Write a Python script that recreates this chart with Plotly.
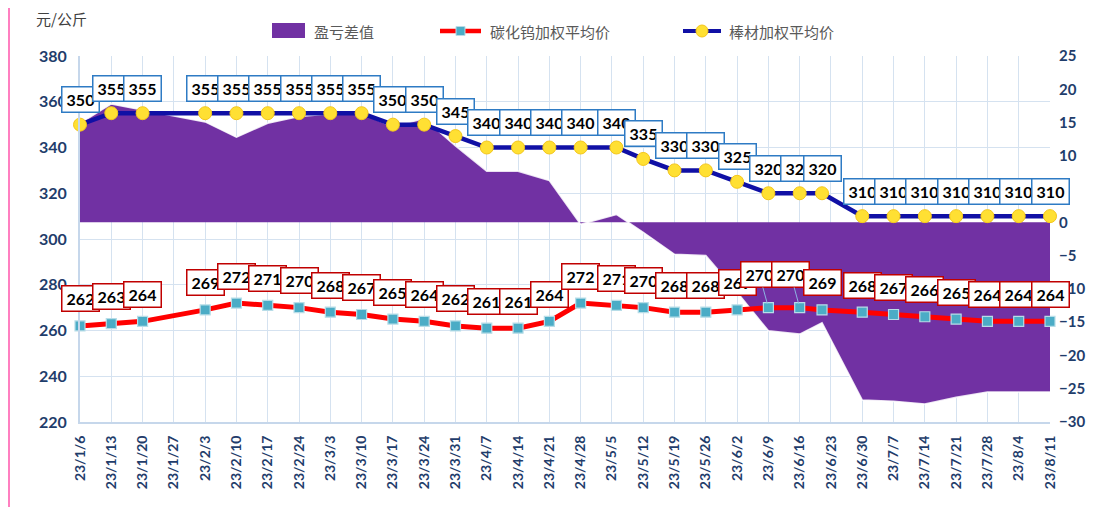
import plotly.graph_objects as go

# ---------------- data ----------------
dates = ["2023-01-06", "2023-01-13", "2023-01-20", "2023-02-03", "2023-02-10", "2023-02-17",
         "2023-02-24", "2023-03-03", "2023-03-10", "2023-03-17", "2023-03-24", "2023-03-31",
         "2023-04-07", "2023-04-14", "2023-04-21", "2023-04-28", "2023-05-06", "2023-05-12",
         "2023-05-19", "2023-05-26", "2023-06-02", "2023-06-09", "2023-06-16", "2023-06-21",
         "2023-06-30", "2023-07-07", "2023-07-14", "2023-07-21", "2023-07-28", "2023-08-04",
         "2023-08-11"]

rod_price = [350, 355, 355, 355, 355, 355, 355, 355, 355, 350, 350, 345, 340, 340, 340, 340,
             340, 335, 330, 330, 325, 320, 320, 320, 310, 310, 310, 310, 310, 310, 310]

carbide_price = [262, 263, 264, 269, 272, 271, 270, 268, 267, 265, 264, 262, 261, 261, 264, 272,
                 271, 270, 268, 268, 269, 270, 270, 269, 268, 267, 266, 265, 264, 264, 264]

margin_diff = [14.9, 17.8, 16.9, 15.1, 12.8, 14.9, 15.9, 16.3, 16.4, 14.4, 15.6, 11.5, 7.7, 7.7,
               6.3, -0.3, 1.2, -1.5, -4.8, -5.0, -10.5, -16.3, -16.8, -15.1, -26.7, -26.9,
               -27.3, -26.3, -25.5, -25.5, -25.5]

tick_dates = ["2023-01-06", "2023-01-13", "2023-01-20", "2023-01-27", "2023-02-03", "2023-02-10",
              "2023-02-17", "2023-02-24", "2023-03-03", "2023-03-10", "2023-03-17", "2023-03-24",
              "2023-03-31", "2023-04-07", "2023-04-14", "2023-04-21", "2023-04-28", "2023-05-05",
              "2023-05-12", "2023-05-19", "2023-05-26", "2023-06-02", "2023-06-09", "2023-06-16",
              "2023-06-23", "2023-06-30", "2023-07-07", "2023-07-14", "2023-07-21", "2023-07-28",
              "2023-08-04", "2023-08-11"]
tick_labels = ["23/1/6", "23/1/13", "23/1/20", "23/1/27", "23/2/3", "23/2/10", "23/2/17",
               "23/2/24", "23/3/3", "23/3/10", "23/3/17", "23/3/24", "23/3/31", "23/4/7",
               "23/4/14", "23/4/21", "23/4/28", "23/5/5", "23/5/12", "23/5/19", "23/5/26",
               "23/6/2", "23/6/9", "23/6/16", "23/6/23", "23/6/30", "23/7/7", "23/7/14",
               "23/7/21", "23/7/28", "23/8/4", "23/8/11"]

series_names = ["盈亏差值", "碳化钨加权平均价", "棒材加权平均价"]
unit_label = "元/公斤"
leader_dates = ["2023-06-09", "2023-06-16"]  # carbide labels drawn with leader lines

# ---------------- layout geometry ----------------
# the page body has an 8px margin, so the figure is drawn 8px right/down of the window origin
OFF = 8
W, H = 1110 - OFF, 507 - OFF
ML, MT = 80 - OFF, 56 - OFF
MR = W - (1050 - OFF)
MB = H - (422 - OFF)
PW, PH = W - ML - MR, H - MT - MB


def px(xp):
    """window pixel x -> paper coordinate"""
    return (xp - OFF - ML) / PW


def py(yp):
    """window pixel y -> paper coordinate"""
    return (H - MB - (yp - OFF)) / PH


PURPLE = "#7131A3"
RED = "#FF0000"
BLUE = "#1010A5"
NAVY = "#1F3D6B"
GRID = "#D5E2F0"
NUMFONT = "Lato"
CJK = "Noto Sans CJK SC"

fig = go.Figure()

fig.add_trace(go.Scatter(
    x=dates, y=margin_diff, name=series_names[0], yaxis="y",
    mode="lines", fill="tozeroy", fillcolor=PURPLE,
    line=dict(color="rgba(255,255,255,0.85)", width=1.6), showlegend=False,
))
fig.add_trace(go.Scatter(
    x=dates, y=carbide_price, name=series_names[1], yaxis="y2",
    mode="lines+markers", line=dict(color=RED, width=5),
    marker=dict(symbol="square", size=10, color="#4BACC6", line=dict(color="#B7DDE8", width=1.2)),
    cliponaxis=False, showlegend=False,
))
fig.add_trace(go.Scatter(
    x=dates, y=rod_price, name=series_names[2], yaxis="y2",
    mode="lines+markers", line=dict(color=BLUE, width=4.5),
    marker=dict(symbol="circle", size=13, color="#FFE033", line=dict(color="#F4C61A", width=1)),
    cliponaxis=False, showlegend=False,
))

annotations = []
# rod price labels (blue border)
for d, v in zip(dates, rod_price):
    annotations.append(dict(
        x=d, y=v, xref="x", yref="y2", text=str(v), showarrow=False, yshift=25,
        font=dict(family=NUMFONT, size=16, color="black", weight="bold"),
        bgcolor="white", bordercolor="#2E7BC4", borderwidth=1.5, borderpad=2,
        width=32, height=20, align="center",
    ))
# carbide labels (red border)
for d, v in zip(dates, carbide_price):
    base = dict(
        x=d, y=v, xref="x", yref="y2", text=str(v),
        font=dict(family=NUMFONT, size=16, color="black", weight="bold"),
        bgcolor="white", bordercolor="#C00000", borderwidth=1.5, borderpad=2,
        width=32, height=20, align="center",
    )
    if d in leader_dates:
        base.update(showarrow=True, ax=-9, ay=-33, arrowhead=0, arrowwidth=1,
                    arrowcolor="#8DB4E2", standoff=4)
    else:
        base.update(showarrow=False, yshift=27)
    annotations.append(base)

# unit label
annotations.append(dict(x=px(34), y=py(18), xref="paper", yref="paper", xanchor="left",
                        yanchor="middle", text=unit_label, showarrow=False,
                        font=dict(family=CJK, size=15, color="#404040")))

# manual legend
leg_y = 31
shapes = [
    dict(type="rect", xref="paper", yref="paper", x0=px(272), x1=px(305), y0=py(38), y1=py(23),
         fillcolor=PURPLE, line=dict(width=0)),
    dict(type="line", xref="paper", yref="paper", x0=px(440), x1=px(481), y0=py(leg_y), y1=py(leg_y),
         line=dict(color=RED, width=4.5)),
    dict(type="rect", xref="paper", yref="paper", x0=px(456), x1=px(465), y0=py(35.5), y1=py(26.5),
         fillcolor="#4BACC6", line=dict(color="#B7DDE8", width=1)),
    dict(type="line", xref="paper", yref="paper", x0=px(683), x1=px(721), y0=py(leg_y), y1=py(leg_y),
         line=dict(color=BLUE, width=4)),
    dict(type="circle", xref="paper", yref="paper", x0=px(696), x1=px(708), y0=py(37), y1=py(25),
         fillcolor="#FFE033", line=dict(color="#F4C61A", width=1)),
    # pink frame line on the left
    dict(type="line", xref="paper", yref="paper", x0=px(9), x1=px(9), y0=py(OFF), y1=py(507),
         line=dict(color="#FF7FC0", width=2)),
]
for name, xs in zip(series_names, [312, 488, 727]):
    annotations.append(dict(x=px(xs), y=py(leg_y), xref="paper", yref="paper", xanchor="left",
                            yanchor="middle", text=name, showarrow=False,
                            font=dict(family=CJK, size=15, color="#595959")))

fig.update_layout(
    width=W, height=H, margin=dict(l=ML, r=MR, t=MT, b=MB),
    paper_bgcolor="white", plot_bgcolor="white", showlegend=False,
    xaxis=dict(
        type="date", range=[dates[0], dates[-1]], tickvals=tick_dates, ticktext=tick_labels,
        tickangle=-90, showgrid=True, gridcolor=GRID, gridwidth=1,
        showline=True, linecolor="#C6D7EB", linewidth=2, ticks="", ticklabelstandoff=6,
        tickfont=dict(family=NUMFONT, size=14, color=NAVY, weight="bold"),
    ),
    yaxis=dict(
        side="right", range=[-30, 25], dtick=5, showgrid=False, zeroline=False,
        tickfont=dict(family=NUMFONT, size=15, color=NAVY, weight="bold"),
        ticklabelstandoff=8,
    ),
    yaxis2=dict(
        overlaying="y", side="left", range=[220, 380], dtick=20, showgrid=True,
        gridcolor=GRID, gridwidth=1, zeroline=False, showline=True, linecolor="#C6D7EB",
        linewidth=2, tickfont=dict(family=NUMFONT, size=16, color=NAVY, weight="bold"),
        ticklabelstandoff=8,
    ),
    annotations=annotations, shapes=shapes,
)

fig.write_html("out.html")
